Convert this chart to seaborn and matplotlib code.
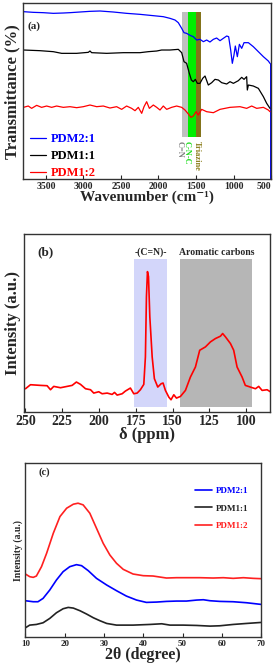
import matplotlib
matplotlib.use('Agg')
import matplotlib.pyplot as plt
import seaborn as sns
import pandas as pd

sns.set_style('ticks')
plt.rcParams['font.family'] = ['Liberation Serif', 'DejaVu Serif']
plt.rcParams['font.weight'] = 'bold'
plt.rcParams['axes.labelweight'] = 'bold'

# ---------------- (a) FTIR ----------------
ftir_labels = ['PDM2:1', 'PDM1:1', 'PDM1:2']
ftir_colors = ['#0000ff', '#000000', '#ff0000']

wn_blue = [3800, 3669, 3536, 3402, 3269, 3180, 3047, 2913, 2780, 2602, 2425, 2247, 2069,
           1936, 1847, 1780, 1736, 1691, 1660, 1625, 1580, 1536, 1491, 1447, 1402, 1358,
           1314, 1269, 1225, 1180, 1136, 1091, 1065, 1038, 1016, 994, 976, 949, 922, 891,
           860, 802, 736, 669, 602, 536, 514, 505, 505]
t_blue = [502, 500, 499, 497, 498, 499, 501, 503, 504, 501, 497, 494, 490,
          487, 482, 477, 469, 452, 439, 437, 431, 427, 417, 419, 412, 417,
          411, 419, 423, 415, 422, 429, 427, 387, 347, 372, 399, 367, 404, 392,
          409, 409, 397, 382, 367, 354, 347, 345, 0]

wn_black = [3800, 3580, 3402, 3291, 3091, 2936, 2913, 2891, 2691, 2469, 2247, 2136, 2024,
            1958, 1847, 1736, 1691, 1660, 1625, 1589, 1562, 1536, 1509, 1482, 1447, 1411,
            1380, 1336, 1291, 1247, 1202, 1158, 1091, 1047, 1002, 936, 891, 860, 825, 816,
            802, 736, 669, 602, 558, 514]
t_black = [387, 385, 382, 377, 377, 380, 384, 379, 377, 379, 379, 382, 384,
           387, 387, 389, 379, 352, 347, 317, 297, 292, 299, 287, 287, 302,
           309, 282, 289, 299, 297, 289, 285, 292, 287, 295, 305, 299, 307, 267,
           282, 279, 272, 247, 227, 212]

wn_red = [3800, 3736, 3691, 3624, 3558, 3491, 3424, 3358, 3269, 3180, 3091, 3002, 2913,
          2824, 2736, 2647, 2558, 2491, 2425, 2358, 2313, 2269, 2224, 2193, 2158, 2122,
          2069, 2024, 1980, 1936, 1891, 1825, 1758, 1691, 1647, 1602, 1567, 1536, 1500,
          1469, 1425, 1358, 1269, 1180, 1047, 914, 825, 758, 691, 602, 536, 514]
t_red = [215, 219, 212, 221, 215, 219, 215, 219, 215, 217, 214, 217, 222,
         217, 219, 213, 217, 209, 219, 212, 205, 215, 197, 217, 232, 212,
         222, 215, 207, 219, 209, 215, 219, 215, 207, 195, 185, 189, 202,
         192, 209, 202, 199, 209, 215, 217, 212, 219, 212, 215, 207, 202]

ftir_bands = [(1691, 1602), (1602, 1505), (1505, 1438)]
ftir_band_colors = ['#c0c0c0', '#00ee00', '#83731a']
ftir_band_labels = ['C=N', 'C-N-C', 'Triazine']
ftir_band_label_x = [1720, 1624, 1483]
ftir_band_label_colors = ['#7f7f7f', '#22dd22', '#8b7d1a']

# ---------------- (b) 13C NMR ----------------
ppm = [250.0, 246.6, 239.8, 235.3, 233.0, 230.8, 226.2, 221.7, 218.3, 215.4, 212.6, 209.2,
       205.8, 203.6, 200.2, 197.9, 194.5, 191.1, 189.5, 187.7, 184.3, 182.1, 178.7, 176.4,
       174.1, 171.9, 169.6, 168.5, 167.8, 167.1, 166.4, 165.5, 163.9, 162.4, 160.1, 157.8,
       156.5, 154.9, 152.6, 151.1, 149.2, 147.4, 144.7, 141.3, 137.9, 134.5, 131.6, 127.7,
       124.3, 120.9, 117.5, 116.0, 114.1, 110.7, 108.5, 106.2, 102.8, 100.6, 97.2, 93.7,
       91.5, 89.2, 85.8, 83.6]
nmr_int = [70, 82, 80, 79, 67, 77, 73, 77, 80, 90, 83, 70,
           67, 57, 61, 55, 57, 53, 59, 51, 55, 63, 72, 55,
           57, 67, 83, 165, 345, 420, 405, 285, 165, 100, 75, 85,
           87, 65, 45, 37, 52, 42, 47, 65, 105, 135, 185, 195,
           210, 220, 227, 235, 225, 205, 185, 135, 105, 80, 75, 70,
           77, 65, 67, 61]
nmr_bands = [(176.4, 153.8), (144.7, 96.0)]
nmr_band_colors = ['#d3d6fa', '#b6b6b6']
nmr_band_labels = ['-(C=N)-', 'Aromatic carbons']

# ---------------- (c) XRD ----------------
xrd_labels = ['PDM2:1', 'PDM1:1', 'PDM1:2']
xrd_colors = ['#0000ff', '#222222', '#ff2020']

tt_blue = [10, 12.0, 13.2, 14.5, 16.2, 17.9, 19.6, 21.3, 23.0, 24.3, 26.0, 28.1, 30.7, 33.2,
           35.7, 38.3, 40.8, 43.4, 45.9, 48.5, 51.0, 53.6, 55.3, 57.0, 59.5, 62.9, 66.3, 70]
i_blue = [110, 107, 107, 117, 142, 172, 197, 212, 218, 215, 200, 177, 157, 140,
          124, 112, 105, 106, 108, 109, 109, 112, 113, 110, 108, 107, 104, 99]

tt_black = [10, 11.1, 12.8, 14.5, 16.2, 17.9, 19.6, 20.9, 22.2, 23.9, 25.6, 27.3, 29.0, 30.7,
            33.2, 37.4, 41.7, 44.7, 46.8, 50.2, 53.6, 57.0, 59.5, 62.9, 66.3, 70]
i_black = [29, 37, 39, 44, 57, 74, 86, 90, 88, 80, 70, 59, 50, 42,
           37, 37, 39, 41, 37, 37, 36, 34, 35, 39, 42, 45]

tt_red = [10, 11.1, 12.0, 12.8, 14.1, 15.4, 17.1, 18.8, 20.5, 22.2, 23.4, 24.7, 26.4, 28.1,
          29.8, 31.5, 33.2, 34.9, 37.4, 40.0, 42.5, 44.2, 45.9, 48.5, 51.0, 54.4, 57.8, 60.4,
          62.9, 65.5, 68.0, 70]
i_red = [190, 182, 180, 184, 212, 252, 312, 362, 387, 399, 402, 397, 372, 327,
         282, 247, 222, 204, 190, 185, 184, 181, 178, 179, 179, 179, 178, 179,
         177, 179, 177, 176]


def draw_line(ax, x, y, color, label, lw):
    df = pd.DataFrame({'x': x, 'y': y})
    sns.lineplot(data=df, x='x', y='y', ax=ax, color=color, label=label,
                 linewidth=lw, sort=False, estimator=None)


def style_axes(ax, tick_size):
    for s in ax.spines.values():
        s.set_linewidth(1.0)
        s.set_color('#333333')
    ax.tick_params(axis='x', direction='in', length=3, width=0.8, labelsize=tick_size, pad=2)
    ax.set_yticks([])
    for lab in ax.get_xticklabels():
        lab.set_fontweight('bold')


fig = plt.figure(figsize=(2.76, 6.68), dpi=100)

# ---- panel (a)
ax1 = fig.add_axes([0.085, 0.732, 0.897, 0.263])
for (hi, lo), c in zip(ftir_bands, ftir_band_colors):
    ax1.axvspan(lo, hi, ymin=0.237, ymax=0.949, color=c, lw=0, zorder=0)
for xs, ys, c, lab in zip([wn_blue, wn_black, wn_red], [t_blue, t_black, t_red],
                          ftir_colors, ftir_labels):
    draw_line(ax1, xs, ys, c, lab, 0.9)
for x, lab, c in zip(ftir_band_label_x, ftir_band_labels, ftir_band_label_colors):
    ax1.text(x, 0.215, lab, transform=ax1.get_xaxis_transform(), rotation=-90,
             ha='center', va='top', fontsize=6, fontweight='bold', color=c)
ax1.set_xlim(3800, 500)
ax1.set_ylim(0, 527)
ax1.set_xticks([3500, 3000, 2500, 2000, 1500, 1000, 500])
ax1.set_xlabel('Wavenumber (cm⁻¹)', fontsize=11, labelpad=0)
ax1.set_ylabel('Transmittance (%)', fontsize=12, labelpad=2)
ax1.text(0.015, 0.855, '(a)', transform=ax1.transAxes, fontsize=8, fontweight='bold')
style_axes(ax1, 7)
ax1.get_xticklabels()[-1].set_horizontalalignment('right')
ax1.legend(loc='lower left', bbox_to_anchor=(-0.02, -0.065), frameon=False,
           handlelength=1.3, handletextpad=0.4, labelspacing=0.4,
           prop={'family': 'Liberation Serif', 'weight': 'bold', 'size': 9},
           labelcolor='linecolor')

# ---- panel (b)
ax2 = fig.add_axes([0.087, 0.383, 0.893, 0.267])
for (hi, lo), c, lab in zip(nmr_bands, nmr_band_colors, nmr_band_labels):
    ax2.axvspan(lo, hi, ymin=0.028, ymax=0.857, color=c, lw=0, zorder=0)
    ax2.text((hi + lo) / 2, 0.895, lab, transform=ax2.get_xaxis_transform(),
             ha='center', va='center', fontsize=7, fontweight='bold')
draw_line(ax2, ppm, nmr_int, '#ff0000', None, 1.2)
ax2.set_xlim(251, 83.5)
ax2.set_ylim(0, 533)
ax2.set_xticks([250, 225, 200, 175, 150, 125, 100])
ax2.set_xlabel('δ (ppm)', fontsize=12, labelpad=-1)
ax2.set_ylabel('Intensity (a.u.)', fontsize=12, labelpad=2)
ax2.text(0.053, 0.895, '(b)', transform=ax2.transAxes, fontsize=9.5, fontweight='bold',
         va='center')
style_axes(ax2, 10)

# ---- panel (c)
ax3 = fig.add_axes([0.092, 0.0457, 0.854, 0.261])
for xs, ys, c, lab in zip([tt_blue, tt_black, tt_red], [i_blue, i_black, i_red],
                          xrd_colors, xrd_labels):
    draw_line(ax3, xs, ys, c, lab, 1.2)
ax3.set_xlim(10, 70)
ax3.set_ylim(0, 522)
ax3.set_xticks([10, 20, 30, 40, 50, 60, 70])
ax3.set_xlabel('2θ (degree)', fontsize=11.5, labelpad=-1)
ax3.set_ylabel('Intensity (a.u.)', fontsize=7, labelpad=2)
ax3.text(0.055, 0.95, '(c)', transform=ax3.transAxes, fontsize=7.5, fontweight='bold',
         va='center')
style_axes(ax3, 6.5)
ax3.legend(loc='upper left', bbox_to_anchor=(0.685, 0.91), frameon=False,
           handlelength=1.9, handletextpad=0.4, labelspacing=1.0,
           prop={'family': 'Liberation Serif', 'weight': 'bold', 'size': 6.5},
           labelcolor='linecolor')

fig.savefig('out.png', dpi=100)
